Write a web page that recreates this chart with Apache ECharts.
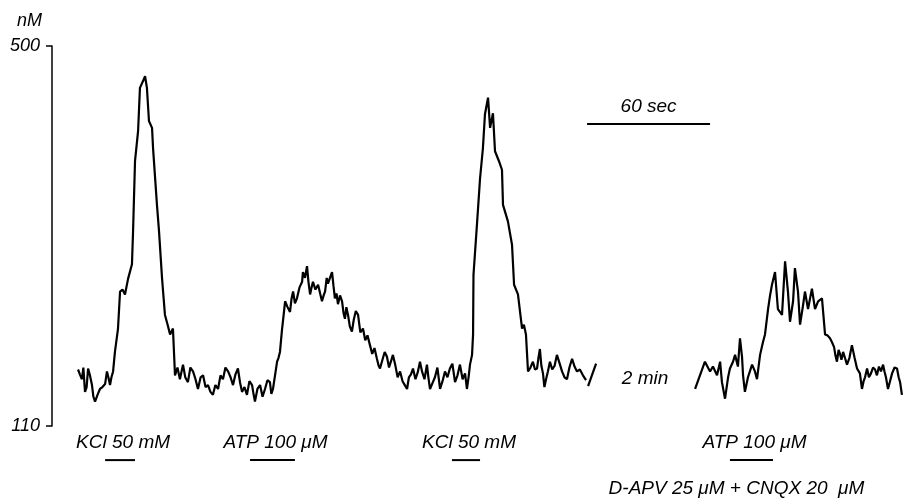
<!DOCTYPE html>
<html>
<head>
<meta charset="utf-8">
<script src="https://cdn.jsdelivr.net/npm/echarts@6/dist/echarts.min.js"></script>
<style>
  html, body { margin: 0; padding: 0; background: #fff; }
  #chartDiv { width: 924px; height: 504px; }
</style>
</head>
<body>
<div id="chartDiv"></div>
<script>
// 数据 (时间 s, 浓度 nM)
const trace1 = [
	[12.7,168],[13.6,163],[14.6,158],[15.3,170],[16.1,145],[16.9,150],[17.6,169],[18.5,162],
	[19.5,152],[20.2,140],[21.0,135],[22.2,142],[23.4,148],[24.6,150],[25.9,153],[26.8,166],
	[27.5,160],[28.3,152],[29.0,160],[29.8,166],[30.7,186],[32.2,210],[33.2,248],[34.4,250],
	[35.6,245],[37.1,261],[39.0,276],[39.5,307],[40.5,382],[42.0,413],[42.9,457],[44.4,464],
	[45.4,469],[46.3,457],[47.3,423],[48.8,416],[49.3,395],[51.2,337],[52.2,310],[53.7,261],
	[55.1,224],[56.4,214],[57.6,204],[59.0,210],[60.0,162],[61.2,170],[62.4,158],[63.2,166],
	[63.9,173],[65.0,160],[66.3,155],[67.5,170],[68.8,166],[70.0,158],[71.2,148],[72.5,160],
	[73.7,162],[74.9,150],[76.1,152],[77.3,145],[78.5,142],[79.7,152],[81.0,148],[82.2,162],
	[83.4,158],[84.6,170],[85.9,166],[87.1,160],[88.3,152],[89.5,163],[90.7,169],[91.7,155],
	[92.7,145],[93.9,150],[95.1,142],[96.3,156],[97.6,152],[98.3,143],[99.0,135],[100.2,148],
	[101.5,152],[102.7,140],[103.9,148],[105.1,157],[106.3,155],[107.0,143],[107.8,148],[109.8,176],
	[110.5,180],[111.2,186],[112.2,209],[113.0,224],[113.7,238],[114.9,232],[116.1,227],[116.8,240],
	[117.6,248],[118.5,236],[119.5,241],[120.7,252],[122.0,258],[122.4,268],[123.4,262],[124.4,274],
	[125.1,258],[125.9,245],[126.6,252],[127.3,258],[128.5,250],[129.8,255],[130.8,246],[131.7,238],
	[132.5,244],[133.2,248],[134.0,262],[134.6,256],[135.6,262],[136.6,268],[137.3,254],[138.0,241],
	[138.8,246],[139.5,235],[140.5,244],[141.5,238],[142.2,226],[142.9,220],[143.6,232],[144.4,224],
	[145.3,212],[146.3,207],[147.2,219],[148.2,228],[149.3,224],[150.4,206],[151.7,210],[152.8,198],
	[153.9,203],[155.1,193],[156.2,184],[157.3,190],[158.5,179],[159.3,172],[160.0,169],[161.2,178],
	[162.3,186],[163.4,181],[164.4,170],[165.3,176],[166.3,183],[167.5,172],[168.6,160],[169.8,166],
	[171.0,156],[172.1,152],[173.2,148],[174.1,160],[175.1,163],[176.1,169],[177.3,158],[178.4,165],
	[179.5,176],[180.5,166],[181.7,158],[182.9,173],[183.6,160],[184.4,148],[185.6,154],[186.8,160],
	[188.0,170],[189.3,148],[190.5,156],[191.7,166],[192.9,160],[194.1,169],[195.3,174],[196.6,155],
	[197.8,162],[199.0,173],[200.3,158],[201.5,164],[202.4,148],[203.2,160],[203.9,173],[204.9,183],
	[205.4,204],[205.6,265],[207.3,317],[208.8,364],[210.2,395],[211.2,430],[212.7,447],[213.7,416],
	[215.1,431],[216.1,392],[218.0,382],[219.5,373],[220.0,337],[222.4,320],[224.4,296],[225.4,255],
	[227.3,245],[229.3,210],[230.2,214],[231.2,204],[231.7,185],[232.2,166],[233.4,170],[234.6,176],
	[235.6,168],[236.6,169],[237.3,180],[238.0,189],[238.7,172],[239.5,164],[240.2,150],[241.0,158],
	[241.9,166],[242.9,176],[244.0,168],[245.2,172],[246.3,183],[247.5,175],[248.8,166],[250.0,160],
	[251.2,158],[252.4,170],[253.7,179],[254.9,171],[256.1,166],[257.5,168],[259.0,162],[259.8,164],
	[260.5,157]
];
const trace2 = [
	[313.7,148],[318.5,176],[321.0,166],[322.4,171],[324.4,162],[325.9,176],[326.8,155],[328.3,138],
	[329.8,160],[330.7,169],[332.2,176],[333.2,183],[334.6,171],[335.6,200],[336.6,181],[337.1,162],
	[338.0,145],[339.5,160],[341.5,173],[342.9,166],[343.9,158],[345.4,183],[346.8,196],[347.8,204],
	[349.3,230],[350.2,243],[351.2,255],[352.7,268],[354.1,230],[356.1,224],[357.6,279],[359.0,248],
	[360.0,217],[361.5,238],[362.4,272],[363.9,248],[364.9,214],[366.3,233],[367.3,248],[368.8,230],
	[370.7,251],[372.2,230],[373.7,238],[375.6,241],[377.1,204],[378.3,203],[379.5,200],[380.5,196],
	[381.5,191],[382.2,182],[382.9,176],[383.7,188],[384.4,184],[385.1,178],[385.9,186],[386.8,180],
	[387.8,173],[389.0,180],[390.2,193],[391.5,180],[392.7,169],[394.1,164],[395.1,148],[395.9,156],
	[396.6,160],[397.6,169],[398.5,160],[399.5,164],[400.5,170],[401.5,168],[402.4,162],[403.4,171],
	[404.4,166],[405.4,173],[406.1,166],[406.8,160],[407.8,148],[408.8,156],[409.8,164],[411.0,170],
	[412.2,169],[413.0,160],[413.7,155],[414.6,142]
];
const breakMark = [[261.5,151],[265.4,174]];
const stimLabels = ['KCl 50 mM', 'ATP 100 μM', 'KCl 50 mM', 'ATP 100 μM'];
const stimOn = [25.9, 96.6, 195.1, 330.7];
const stimOff = [40.5, 118.5, 208.8, 351.7];
const stimLevel = 75;
const scaleBar = [261.0, 321.0]; // 60 sec
const scaleLevel = 420;
const yTicks = [110, 500];

const FONT = '"Liberation Sans", Arial, sans-serif';
let myChart = echarts.init(document.getElementById('chartDiv'));

let lineStyle = {color: '#000', width: 2.2};
let series = [
	{type: 'line', data: trace1, showSymbol: false, lineStyle: lineStyle},
	{type: 'line', data: trace2, showSymbol: false, lineStyle: lineStyle},
	{type: 'line', data: breakMark, showSymbol: false, lineStyle: lineStyle},
	{type: 'line', data: [[scaleBar[0], scaleLevel], [scaleBar[1], scaleLevel]],
		showSymbol: false, lineStyle: {color: '#000', width: 2}}
];
for (let i = 0; i < stimOn.length; i++) {
	series.push({
		type: 'line', clip: false, showSymbol: false,
		data: [[stimOn[i], stimLevel], [stimOff[i], stimLevel]],
		lineStyle: {color: '#000', width: 2}
	});
}

let option = {
	animation: false,
	backgroundColor: '#fff',
	grid: {left: 52, right: 11, top: 46, bottom: 78},
	xAxis: {type: 'value', min: 0, max: 420, show: false},
	yAxis: {
		type: 'value', min: 110, max: 500,
		name: 'nM', nameLocation: 'end', nameGap: 16,
		nameTextStyle: {color: '#000', fontStyle: 'italic', fontSize: 18, fontFamily: FONT,
			align: 'right', padding: [0, 10, 0, 0]},
		splitLine: {show: false},
		axisLine: {show: true, lineStyle: {color: '#000', width: 1.5}},
		axisTick: {show: true, customValues: yTicks, length: 6, lineStyle: {color: '#000', width: 1.5}},
		axisLabel: {customValues: yTicks, margin: 12, color: '#000', fontStyle: 'italic',
			fontSize: 18, fontFamily: FONT}
	},
	series: series
};
myChart.setOption(option);

// 文字标注
function px(t, v) { return myChart.convertToPixel({gridIndex: 0}, [t, v]); }
function txt(text, p) {
	return {type: 'text', x: p[0], y: p[1], style: {text: text, fill: '#000',
		fontStyle: 'italic', fontSize: 19, fontFamily: FONT, align: 'center', verticalAlign: 'middle'}};
}
let graphic = [];
for (let i = 0; i < stimOn.length; i++) {
	let p = px((stimOn[i] + stimOff[i]) / 2, stimLevel);
	graphic.push(txt(stimLabels[i], [p[0] + 3, p[1] - 17]));
}
let last = stimOn.length - 1;
let pa = px((stimOn[last] + stimOff[last]) / 2, stimLevel);
graphic.push(txt('D-APV 25 μM + CNQX 20  μM', [pa[0] - 15, pa[1] + 29]));
let ps = px((scaleBar[0] + scaleBar[1]) / 2, scaleLevel);
graphic.push(txt('60 sec', [ps[0], ps[1] - 17]));
let pb = px(289.3, 159);
graphic.push(txt('2 min', pb));
myChart.setOption({graphic: graphic});
</script>
</body>
</html>
